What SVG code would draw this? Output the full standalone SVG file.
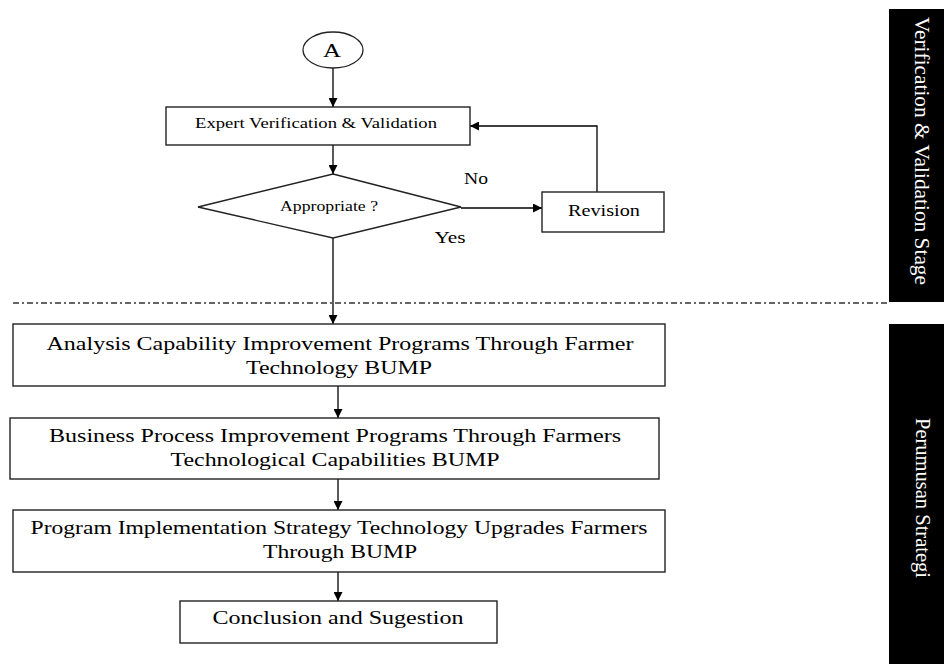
<svg xmlns="http://www.w3.org/2000/svg" width="944" height="666" viewBox="0 0 944 666">
<style>
  .box { fill: #fff; stroke: #222; stroke-width: 1.4; }
  .t { font-family: "Liberation Serif", "Times New Roman", serif; fill: #000; text-anchor: middle; }
  .m { font-size: 19px; }
  .s { font-size: 15px; }
  .v { font-family: "Liberation Serif", "Times New Roman", serif; fill: #fff; font-size: 17px; }
  .ln { fill: none; stroke: #000; stroke-width: 1.3; }
</style>
<defs>
  <marker id="ah" viewBox="0 0 10 10" refX="10" refY="5" markerWidth="9" markerHeight="9" markerUnits="userSpaceOnUse" orient="auto">
    <path d="M0,0 L10,5 L0,10 Z" fill="#000"/>
  </marker>
</defs>
<rect width="944" height="666" fill="#fff"/>

<g id="stage-verification">
  <rect x="889" y="9" width="55" height="293" fill="#000"/>
  <text class="v" transform="translate(915,17) rotate(90) scale(1,1.25)" textLength="268" lengthAdjust="spacingAndGlyphs">Verification  &amp; Validation Stage</text>
</g>
<g id="stage-perumusan">
  <rect x="889" y="324" width="55" height="340" fill="#000"/>
  <text class="v" transform="translate(916,418) rotate(90) scale(1,1.25)" textLength="160" lengthAdjust="spacingAndGlyphs">Perumusan  Strategi</text>
</g>

<g id="divider">
  <line x1="13" y1="303" x2="889" y2="303" stroke="#333" stroke-width="1.3" stroke-dasharray="6 3 2 3"/>
</g>

<g id="connectors">
  <line class="ln" x1="333" y1="68" x2="333" y2="107" marker-end="url(#ah)"/>
  <line class="ln" x1="333" y1="145" x2="333" y2="174" marker-end="url(#ah)"/>
  <line class="ln" x1="461" y1="208" x2="542" y2="208" marker-end="url(#ah)"/>
  <polyline class="ln" points="597,192 597,126 470,126" marker-end="url(#ah)"/>
  <line class="ln" x1="333" y1="238" x2="333" y2="324" marker-end="url(#ah)"/>
  <line class="ln" x1="338" y1="386" x2="338" y2="418" marker-end="url(#ah)"/>
  <line class="ln" x1="338" y1="479" x2="338" y2="510" marker-end="url(#ah)"/>
  <line class="ln" x1="338" y1="572" x2="338" y2="601" marker-end="url(#ah)"/>
</g>

<g id="start-A">
  <ellipse cx="333" cy="50" rx="30" ry="18" fill="#fff" stroke="#222" stroke-width="1.3"/>
  <text class="t" transform="translate(332,57) scale(1.25,1)" font-size="19" textLength="14.4" lengthAdjust="spacingAndGlyphs">A</text>
</g>

<g id="expert">
  <rect class="box" x="166" y="107" width="304" height="38"/>
  <text class="t s" transform="translate(316,128) scale(1.25,1)" textLength="193.6" lengthAdjust="spacingAndGlyphs">Expert Verification &amp; Validation</text>
</g>

<g id="decision">
  <polygon class="box" points="333,174 461,207 333,238 198,207"/>
  <text class="t" transform="translate(329,211) scale(1.25,1)" font-size="14" textLength="78.4" lengthAdjust="spacingAndGlyphs">Appropriate ?</text>
</g>

<g id="label-no">
  <text class="t" transform="translate(476,184) scale(1.25,1)" font-size="16" textLength="19.2" lengthAdjust="spacingAndGlyphs">No</text>
</g>
<g id="label-yes">
  <text class="t" transform="translate(450,243) scale(1.25,1)" font-size="16" textLength="24.8" lengthAdjust="spacingAndGlyphs">Yes</text>
</g>

<g id="revision">
  <rect class="box" x="542" y="192" width="122" height="40"/>
  <text class="t" transform="translate(604,216) scale(1.25,1)" font-size="16" textLength="57.6" lengthAdjust="spacingAndGlyphs">Revision</text>
</g>

<g id="analysis">
  <rect class="box" x="13" y="324" width="652" height="62"/>
  <text class="t m" transform="translate(340,350) scale(1.25,1)" textLength="469.6" lengthAdjust="spacingAndGlyphs">Analysis Capability Improvement Programs Through Farmer</text>
  <text class="t m" transform="translate(339,374) scale(1.25,1)" textLength="148.8" lengthAdjust="spacingAndGlyphs">Technology BUMP</text>
</g>

<g id="business">
  <rect class="box" x="10" y="418" width="649" height="61"/>
  <text class="t m" transform="translate(335,442) scale(1.25,1)" textLength="457.6" lengthAdjust="spacingAndGlyphs">Business Process Improvement Programs Through Farmers</text>
  <text class="t m" transform="translate(335,466) scale(1.25,1)" textLength="263.2" lengthAdjust="spacingAndGlyphs">Technological Capabilities BUMP</text>
</g>

<g id="program">
  <rect class="box" x="13" y="510" width="652" height="62"/>
  <text class="t m" transform="translate(339,534) scale(1.25,1)" textLength="493.6" lengthAdjust="spacingAndGlyphs">Program Implementation Strategy Technology Upgrades Farmers</text>
  <text class="t m" transform="translate(340,558) scale(1.25,1)" textLength="123.2" lengthAdjust="spacingAndGlyphs">Through BUMP</text>
</g>

<g id="conclusion">
  <rect class="box" x="180" y="601" width="317" height="42"/>
  <text class="t m" transform="translate(338,624) scale(1.25,1)" textLength="200.8" lengthAdjust="spacingAndGlyphs">Conclusion and Sugestion</text>
</g>
</svg>
